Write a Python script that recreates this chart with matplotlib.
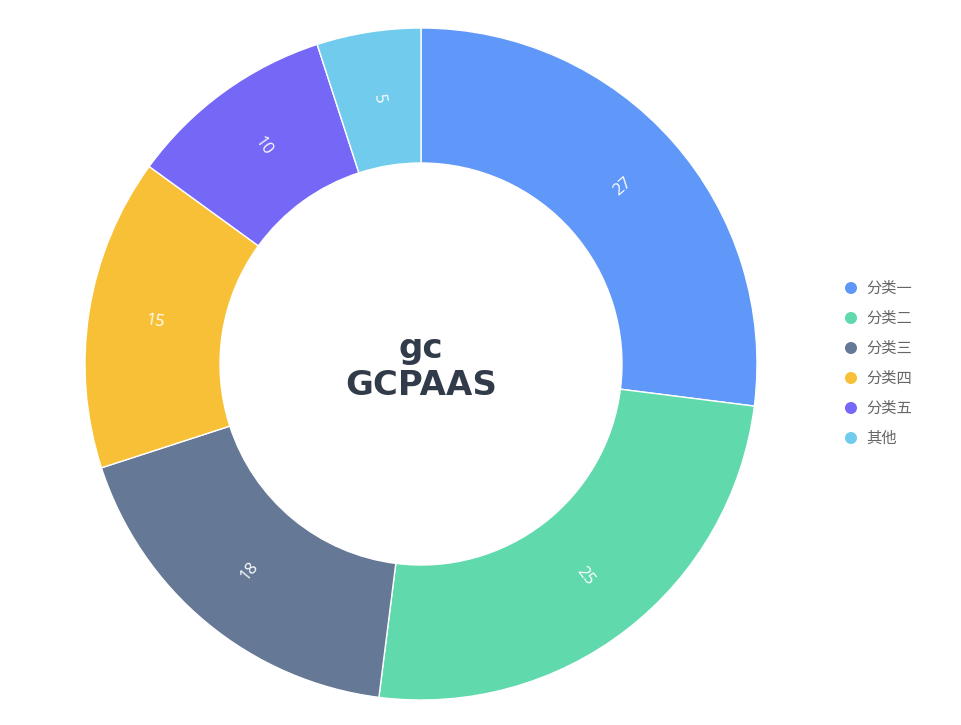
import numpy as np
import matplotlib.pyplot as plt

plt.rcParams['font.family'] = ['Noto Sans CJK SC', 'DejaVu Sans']

categories = ['分类一', '分类二', '分类三', '分类四', '分类五', '其他']
values = [27, 25, 18, 15, 10, 5]
colors = ['#6098F9', '#60D9AD', '#657896', '#F8C037', '#7668F6', '#71CBEC']
title_lines = ['gc', 'GCPAAS']

W, H = 961, 725
fig = plt.figure(figsize=(W / 100, H / 100), dpi=100)
ax = fig.add_axes([0, 0, 1, 1])

cx, cy = 421, H - 364
r_out, r_in = 336, 201
wedges, _ = ax.pie(values, colors=colors, startangle=90, counterclock=False,
                   radius=r_out, center=(cx, cy), frame=True,
                   wedgeprops=dict(width=r_out - r_in, edgecolor='white', linewidth=1))
ax.set_xlim(0, W)
ax.set_ylim(0, H)
ax.axis('off')

# radial labels
r_mid = (r_out + r_in) / 2
for w, v in zip(wedges, values):
    ang = (w.theta1 + w.theta2) / 2
    x = cx + r_mid * np.cos(np.radians(ang))
    y = cy + r_mid * np.sin(np.radians(ang))
    rot = ang % 360
    if 90 < rot < 270:
        rot -= 180
    ax.text(x, y, str(v), color='white', fontsize=12, rotation=rot,
            rotation_mode='anchor', ha='center', va='center',
            family=['Open Sans', 'DejaVu Sans'])

# center title
ax.text(cx, H - 358, title_lines[0], fontsize=24.5, fontweight='bold', color='#323B49',
        ha='center', va='baseline', family=['DejaVu Sans'])
ax.text(cx, H - 395, title_lines[1], fontsize=24.5, fontweight='bold', color='#323B49',
        ha='center', va='baseline', family=['DejaVu Sans'])

# legend
for i, (c, col) in enumerate(zip(categories, colors)):
    y = H - (288 + 30 * i)
    ax.scatter([851], [y], s=75, color=col, edgecolors='none')
    ax.text(866, y, c, fontsize=11, color='#666666', ha='left', va='center')

fig.savefig('out.png', dpi=100)
